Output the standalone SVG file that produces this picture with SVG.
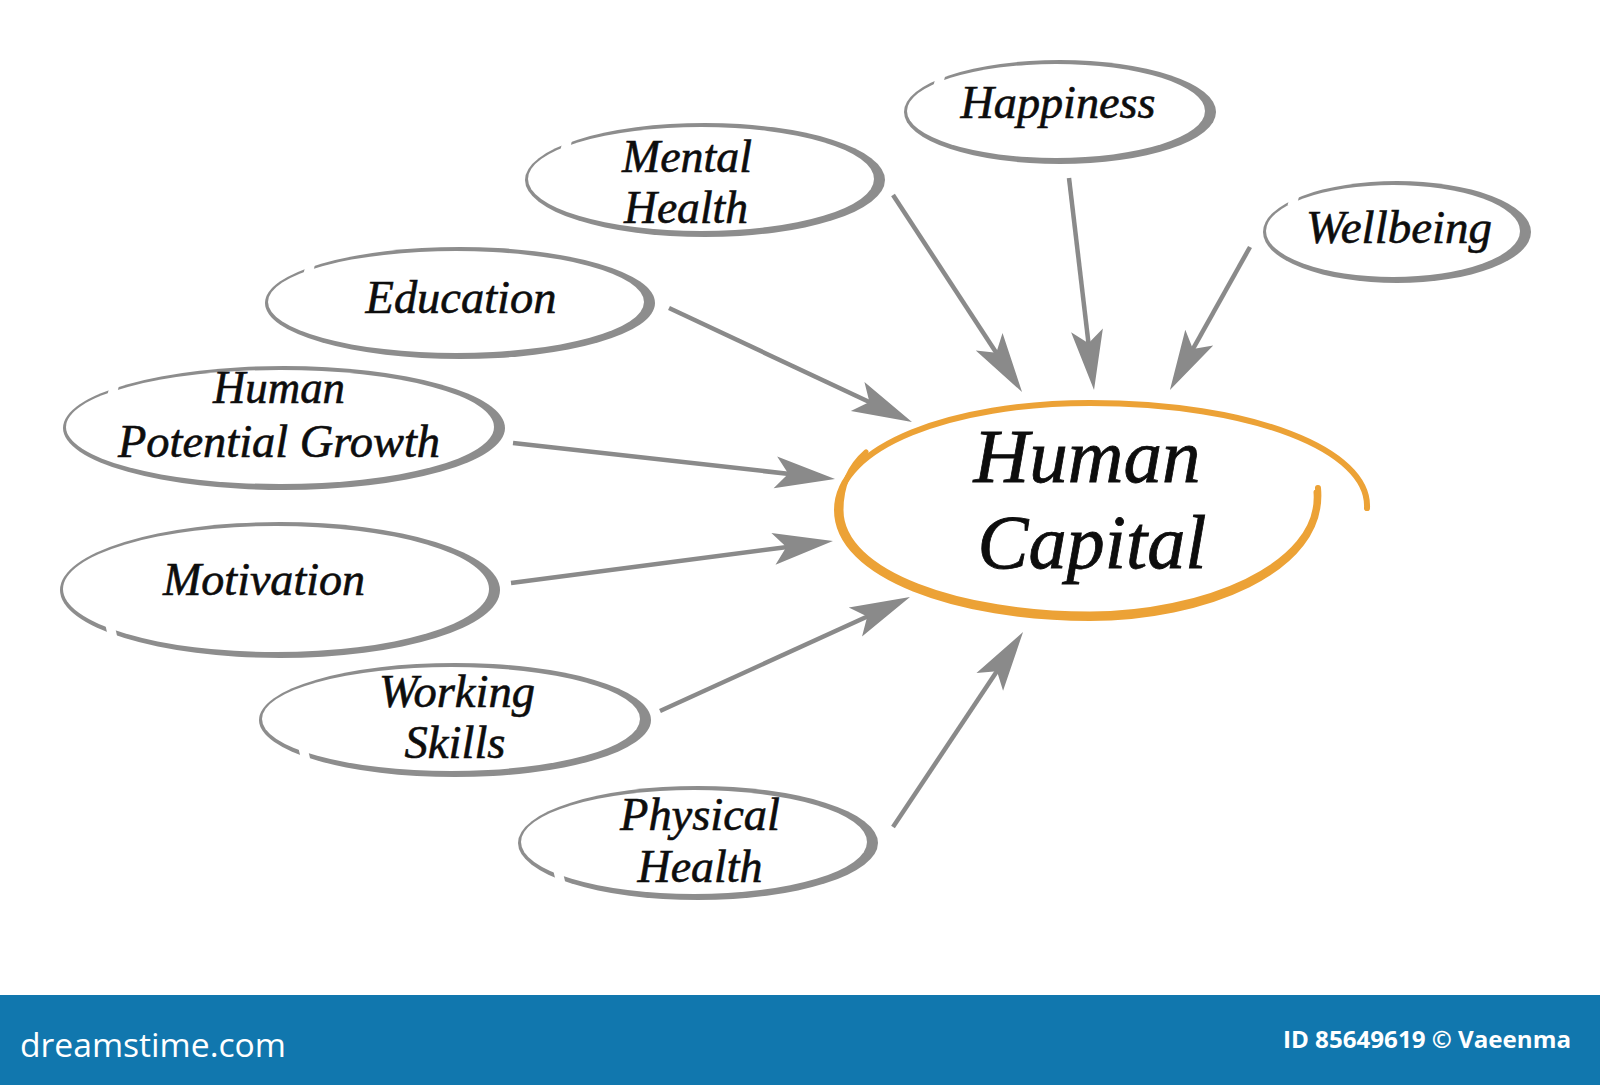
<svg xmlns="http://www.w3.org/2000/svg" width="1600" height="1085" viewBox="0 0 1600 1085">
<style>
.ring{fill:#8d8d8d}
.hole{fill:#ffffff}
.gap{stroke:#ffffff;stroke-width:9;fill:none}
.t{font-family:"Liberation Serif","Times New Roman",serif;font-style:italic;font-size:46px;fill:#0d0d0d;stroke:#0d0d0d;stroke-width:0.6;text-anchor:middle}
.big{font-size:76px;stroke-width:0.8}
.arr{stroke:#8a8a8a;stroke-width:4.5;fill:none;marker-end:url(#ah)}
.orange{fill:none;stroke:#eca236;stroke-linecap:round}
.foot{font-family:"Open Sans","Noto Sans","DejaVu Sans",sans-serif;fill:#ffffff}
</style>
<defs>
<marker id="ah" markerUnits="userSpaceOnUse" viewBox="-62 -17 64 34" refX="-30" refY="0" markerWidth="64" markerHeight="34" orient="auto">
<path d="M0,0 L-60,-16 L-47,0 L-60,16 Z" fill="#8a8a8a"/>
</marker>
</defs>
<rect width="1600" height="1085" fill="#ffffff"/>

<g id="connectors">
<line class="arr" x1="893" y1="195" x2="1005.6" y2="366.9"/>
<line class="arr" x1="1069" y1="178" x2="1090.5" y2="360.2"/>
<line class="arr" x1="1250" y1="247" x2="1184.6" y2="363.8"/>
<line class="arr" x1="669" y1="308" x2="884.8" y2="409.3"/>
<line class="arr" x1="513" y1="443" x2="805.2" y2="475.7"/>
<line class="arr" x1="511" y1="583" x2="803.2" y2="544.9"/>
<line class="arr" x1="660" y1="711" x2="882.7" y2="609.5"/>
<line class="arr" x1="893" y1="827" x2="1006.4" y2="657.0"/>
</g>

<g id="human-capital">
<path class="orange" stroke-width="6" d="M1318,488 C1326,572 1200,618 1090,618 C958,618 837,576 837,510 C837,446 952,403 1090,403 C1252,403 1370,450 1367,508"/>
<path class="orange" stroke-width="5" d="M1316,492 C1322,567 1200,614 1090,614 C962,614 841,574 841,510 C841,484 850,466 866,452"/>
<text class="t big" x="1087" y="482" textLength="227" lengthAdjust="spacingAndGlyphs">Human</text>
<text class="t big" x="1092" y="568" textLength="229" lengthAdjust="spacingAndGlyphs">Capital</text>
</g>

<g id="mental-health">
<ellipse class="ring" cx="705" cy="180" rx="180" ry="57"/>
<ellipse class="hole" cx="701" cy="179" rx="173" ry="52"/>
<line class="gap" x1="569" y1="134" x2="565" y2="150"/>
<text class="t" x="687" y="172" textLength="130" lengthAdjust="spacingAndGlyphs">Mental</text>
<text class="t" x="686" y="223" textLength="124" lengthAdjust="spacingAndGlyphs">Health</text>
</g>

<g id="happiness">
<ellipse class="ring" cx="1060" cy="112" rx="156" ry="52"/>
<ellipse class="hole" cx="1056" cy="111" rx="149" ry="47"/>
<line class="gap" x1="942" y1="70" x2="938" y2="86"/>
<text class="t" x="1058" y="118" textLength="195" lengthAdjust="spacingAndGlyphs">Happiness</text>
</g>

<g id="wellbeing">
<ellipse class="ring" cx="1397" cy="232" rx="134" ry="51"/>
<ellipse class="hole" cx="1393" cy="231" rx="127" ry="46"/>
<line class="gap" x1="1296" y1="190" x2="1292" y2="206"/>
<text class="t" x="1399" y="243" textLength="186" lengthAdjust="spacingAndGlyphs">Wellbeing</text>
</g>

<g id="education">
<ellipse class="ring" cx="460" cy="303" rx="195" ry="56"/>
<ellipse class="hole" cx="456" cy="302" rx="188" ry="51"/>
<line class="gap" x1="312" y1="258" x2="308" y2="274"/>
<text class="t" x="461" y="313" textLength="191" lengthAdjust="spacingAndGlyphs">Education</text>
</g>

<g id="human-potential-growth">
<ellipse class="ring" cx="284" cy="428" rx="221" ry="62"/>
<ellipse class="hole" cx="280" cy="427" rx="214" ry="57"/>
<line class="gap" x1="116" y1="379" x2="112" y2="395"/>
<text class="t" x="279" y="403" textLength="132" lengthAdjust="spacingAndGlyphs">Human</text>
<text class="t" x="279" y="457" textLength="322" lengthAdjust="spacingAndGlyphs">Potential Growth</text>
</g>

<g id="motivation">
<ellipse class="ring" cx="280" cy="590" rx="220" ry="68"/>
<ellipse class="hole" cx="276" cy="589" rx="213" ry="63"/>
<line class="gap" x1="110" y1="625" x2="114" y2="643"/>
<text class="t" x="264" y="595" textLength="202" lengthAdjust="spacingAndGlyphs">Motivation</text>
</g>

<g id="working-skills">
<ellipse class="ring" cx="455" cy="720" rx="196" ry="57"/>
<ellipse class="hole" cx="451" cy="719" rx="189" ry="52"/>
<line class="gap" x1="303" y1="748" x2="307" y2="765"/>
<text class="t" x="457" y="707" textLength="156" lengthAdjust="spacingAndGlyphs">Working</text>
<text class="t" x="455" y="758" textLength="101" lengthAdjust="spacingAndGlyphs">Skills</text>
</g>

<g id="physical-health">
<ellipse class="ring" cx="698" cy="843" rx="180" ry="57"/>
<ellipse class="hole" cx="694" cy="842" rx="173" ry="52"/>
<line class="gap" x1="558" y1="871" x2="562" y2="888"/>
<text class="t" x="700" y="830" textLength="160" lengthAdjust="spacingAndGlyphs">Physical</text>
<text class="t" x="700" y="882" textLength="125" lengthAdjust="spacingAndGlyphs">Health</text>
</g>

<g id="footer">
<rect x="0" y="995" width="1600" height="90" fill="#1177ae"/>
<text class="foot" x="20" y="1057" font-size="32" textLength="266" lengthAdjust="spacingAndGlyphs">dreamstime.com</text>
<text class="foot" x="1283" y="1048" font-size="24" font-weight="bold" textLength="288" lengthAdjust="spacingAndGlyphs">ID 85649619 © Vaeenma</text>
</g>
</svg>
